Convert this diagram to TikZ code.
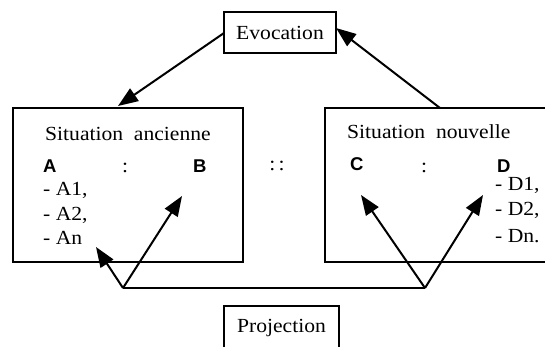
\documentclass[tikz,border=0pt]{standalone}
\usepackage{fontspec}
\setmainfont[FakeStretch=1.08]{Liberation Serif}
\setsansfont{Liberation Sans}
\usetikzlibrary{arrows.meta}
\tikzset{
  box/.style={draw, line width=1.4pt, inner sep=0pt},
  conn/.style={line width=2pt, -{Triangle[length=20pt,width=15pt]}},
  plain/.style={line width=2pt},
  txt/.style={inner sep=0pt, anchor=base west, font=\fontsize{20}{22}\selectfont},
  big/.style={inner sep=0pt, anchor=base west, font=\sffamily\bfseries\fontsize{18.5}{22}\selectfont},
}
\begin{document}
\begin{tikzpicture}[x=1pt,y=-1pt]
\useasboundingbox (0,0) rectangle (545,346);
% boxes
\node[box, minimum width=230pt, minimum height=154pt] (left) at (128,185) {};
\node[box, minimum width=223pt, minimum height=154pt] (right) at (436.5,185) {};
\node[box, minimum width=112pt, minimum height=41pt, font=\fontsize{20}{22}\selectfont] (evoc) at (280,32.5) {Evocation};
\node[box, minimum width=115pt, minimum height=44pt, font=\fontsize{20}{22}\selectfont] (proj) at (281.5,328) {Projection};
% left content
\node[txt] (sa) at (45,140) {Situation\ \ ancienne};
\node[big] (A) at (43,172) {A};
\node[txt, anchor=base] (c1) at (125,172) {:};
\node[big] (B) at (193,172) {B};
\node[txt] (a1) at (43,195) {- A1,};
\node[txt] (a2) at (43,220) {- A2,};
\node[txt] (an) at (43,244) {- An};
% middle
\node[txt, anchor=base] (dd) at (277,170) {:\,:};
% right content
\node[txt] (sn) at (347,138) {Situation\ \ nouvelle};
\node[big] (C) at (350,170) {C};
\node[txt, anchor=base] (c2) at (424,172) {:};
\node[big] (D) at (497,172) {D};
\node[txt] (d1) at (495,190) {- D1,};
\node[txt] (d2) at (495,215) {- D2,};
\node[txt] (dn) at (495,242) {- Dn.};
% connector points
\coordinate (eL) at (224,33);
\coordinate (tL) at (118,106);
\coordinate (sR) at (440,108);
\coordinate (tR) at (336,28);
\coordinate (p1) at (123,288);
\coordinate (p2) at (425,288);
\coordinate (tAn) at (96,247);
\coordinate (tB) at (182,196);
\coordinate (tC) at (361,195);
\coordinate (tD) at (483,195);
% connectors
\draw[conn] (eL) -- (tL);
\draw[conn] (sR) -- (tR);
\draw[plain] (p1) -- (p2);
\draw[conn] (p1) -- (tAn);
\draw[conn] (p1) -- (tB);
\draw[conn] (p2) -- (tC);
\draw[conn] (p2) -- (tD);
\end{tikzpicture}
\end{document}
